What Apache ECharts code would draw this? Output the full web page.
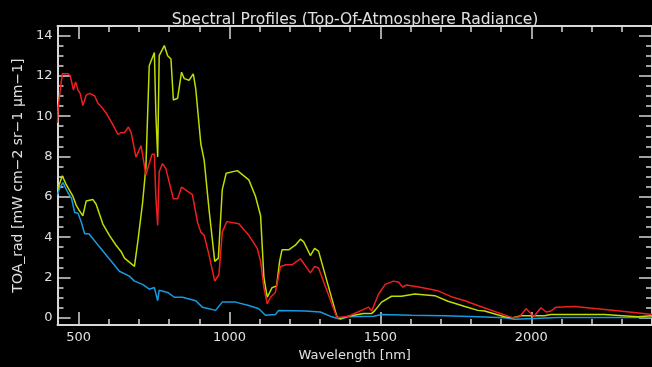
<!DOCTYPE html>
<html>
<head>
<meta charset="utf-8">
<script src="https://cdn.jsdelivr.net/npm/echarts@6/dist/echarts.min.js"></script>
<style>
  html, body { margin: 0; padding: 0; background: #000; }
  #chart { width: 652px; height: 367px; }
</style>
</head>
<body>
<div id="chart"></div>
<script>
// wavelengths (nm) and radiance values, one pair of arrays per curve
var redWl = [430, 432, 437, 446, 465, 472, 478, 483, 490, 498, 505, 514, 525, 536, 553, 564, 575, 591, 613, 630, 641, 652, 665, 674, 690, 707, 723, 734, 743, 751, 756, 762, 767, 778, 789, 814, 828, 841, 877, 894, 905, 916, 932, 951, 965, 976, 991, 1031, 1064, 1092, 1103, 1114, 1125, 1136, 1152, 1169, 1187, 1207, 1235, 1268, 1282, 1295, 1356, 1394, 1461, 1471, 1494, 1516, 1543, 1560, 1573, 1587, 1636, 1691, 1735, 1780, 1823, 1939, 1961, 1983, 2008, 2032, 2049, 2065, 2082, 2143, 2252, 2357, 2400];
var redVal = [9.67, 10.4, 11.04, 12.1, 12.1, 12.01, 12.1, 11.29, 11.7, 11.29, 11.13, 10.53, 11.04, 11.13, 11.01, 10.64, 10.48, 10.16, 9.59, 9.1, 9.18, 9.18, 9.46, 9.18, 7.97, 8.54, 7.08, 7.65, 8.1, 8.13, 5.95, 4.58, 7.24, 7.65, 7.4, 5.9, 5.9, 6.48, 6.11, 4.74, 4.25, 4.09, 3.12, 1.82, 2.15, 4.25, 4.77, 4.66, 4.09, 3.44, 2.8, 1.5, 0.69, 1.02, 1.26, 2.55, 2.63, 2.63, 2.93, 2.23, 2.55, 2.47, 0, 0.08, 0.53, 0.34, 1.18, 1.66, 1.82, 1.78, 1.53, 1.63, 1.5, 1.34, 1.05, 0.85, 0.61, 0, 0.05, 0.45, 0.05, 0.5, 0.29, 0.34, 0.53, 0.56, 0.4, 0.24, 0.16];

var yellowWl = [430, 446, 459, 481, 492, 503, 514, 525, 547, 558, 580, 602, 624, 641, 652, 685, 696, 712, 723, 734, 751, 756, 762, 767, 784, 795, 806, 814, 828, 841, 850, 866, 880, 888, 905, 916, 932, 951, 963, 976, 989, 1026, 1064, 1086, 1103, 1114, 1125, 1141, 1156, 1166, 1174, 1196, 1218, 1235, 1246, 1268, 1282, 1295, 1356, 1367, 1394, 1444, 1471, 1482, 1504, 1537, 1570, 1614, 1680, 1724, 1780, 1823, 1845, 1911, 1939, 1966, 2044, 2065, 2087, 2242, 2352, 2400];
var yellowVal = [6.36, 7.04, 6.6, 6.03, 5.58, 5.3, 5.06, 5.79, 5.87, 5.63, 4.66, 4.09, 3.6, 3.28, 2.96, 2.55, 3.77, 5.71, 7.49, 12.5, 13.16, 10.08, 7.98, 13.0, 13.5, 13.0, 12.83, 10.8, 10.89, 12.18, 11.86, 11.78, 12.1, 11.37, 8.62, 7.82, 5.39, 2.8, 2.96, 6.36, 7.17, 7.3, 6.84, 6.03, 5.06, 1.99, 1.02, 1.5, 1.58, 2.8, 3.37, 3.37, 3.6, 3.9, 3.77, 3.09, 3.44, 3.31, 0.05, -0.03, 0.08, 0.21, 0.21, 0.37, 0.78, 1.07, 1.07, 1.18, 1.1, 0.82, 0.56, 0.37, 0.34, 0.05, 0, 0.1, 0.1, 0.17, 0.17, 0.16, 0.05, 0.1];

var blueWl = [430, 437, 448, 465, 476, 487, 498, 509, 520, 534, 547, 569, 591, 613, 635, 668, 685, 712, 734, 751, 762, 767, 795, 817, 844, 888, 910, 932, 954, 976, 1020, 1064, 1097, 1119, 1152, 1163, 1251, 1301, 1339, 1367, 1394, 1478, 1504, 1603, 1713, 1823, 1911, 1944, 2008, 2087, 2400];
var blueVal = [6.11, 6.43, 6.71, 6.19, 5.95, 5.22, 5.19, 4.74, 4.17, 4.17, 3.93, 3.52, 3.12, 2.72, 2.31, 2.07, 1.82, 1.66, 1.42, 1.5, 0.85, 1.37, 1.26, 1.02, 1.02, 0.85, 0.53, 0.45, 0.37, 0.78, 0.78, 0.61, 0.45, 0.13, 0.17, 0.37, 0.34, 0.29, 0.05, -0.07, 0.05, 0.08, 0.17, 0.13, 0.1, 0.05, 0, -0.07, -0.03, 0.02, 0.02];

// tick values
var xMajor = [500, 1000, 1500, 2000];
var xMinor = [600, 700, 800, 900, 1100, 1200, 1300, 1400, 1600, 1700, 1800, 1900, 2100, 2200, 2300];
var yMajor = [0, 2, 4, 6, 8, 10, 12, 14];
var yMinor = [0.5, 1, 1.5, 2.5, 3, 3.5, 4.5, 5, 5.5, 6.5, 7, 7.5, 8.5, 9, 9.5, 10.5, 11, 11.5, 12.5, 13, 13.5];

function pairs(xs, ys) {
  var out = [];
  for (var i = 0; i < xs.length; i++) out.push([xs[i], ys[i]]);
  return out;
}

var axisColor = '#d8d8d8';
var textColor = '#e0e0e0';
var font = 'DejaVu Sans';

function plain(v) { return String(v); }

function xAx(pos, ticks, len, showLine, showLabel) {
  return {
    type: 'value', position: pos, min: 430, max: 2400,
    axisLine: { show: showLine, onZero: false, lineStyle: { color: axisColor, width: 2 } },
    axisTick: { show: true, inside: true, length: len, customValues: ticks, lineStyle: { color: axisColor, width: 1.5 } },
    axisLabel: { show: showLabel, customValues: ticks, formatter: plain, color: textColor, fontFamily: font, fontSize: 13, margin: 6 },
    splitLine: { show: false }
  };
}
function yAx(pos, ticks, len, showLine, showLabel) {
  return {
    type: 'value', position: pos, min: -0.36, max: 14.47,
    axisLine: { show: showLine, onZero: false, lineStyle: { color: axisColor, width: 2 } },
    axisTick: { show: true, inside: true, length: len, customValues: ticks, lineStyle: { color: axisColor, width: 1.5 } },
    axisLabel: { show: showLabel, customValues: ticks, formatter: plain, color: textColor, fontFamily: font, fontSize: 13, margin: 5 },
    splitLine: { show: false }
  };
}

var chart = echarts.init(document.getElementById('chart'));

var xBottom = xAx('bottom', xMajor, 13, true, true);
xBottom.name = 'Wavelength [nm]';
xBottom.nameLocation = 'middle';
xBottom.nameGap = 20;
xBottom.nameTextStyle = { color: textColor, fontFamily: font, fontSize: 13 };

var yLeft = yAx('left', yMajor, 13, true, true);
yLeft.name = 'TOA_rad [mW cm\u22122 sr\u22121 \u00b5m\u22121]';
yLeft.nameLocation = 'middle';
yLeft.nameGap = 32;
yLeft.nameTextStyle = { color: textColor, fontFamily: font, fontSize: 14 };

var option = {
  backgroundColor: '#000',
  animation: false,
  title: {
    text: 'Spectral Profiles (Top-Of-Atmosphere Radiance)',
    left: 350, top: 7, textAlign: 'center',
    textStyle: { color: textColor, fontFamily: font, fontSize: 15.5, fontWeight: 'normal' }
  },
  grid: { left: 57.5, right: -3, top: 26, bottom: 35.5, containLabel: false },
  xAxis: [
    xBottom,
    xAx('bottom', xMinor, 6, false, false),
    xAx('top', xMajor, 13, true, false),
    xAx('top', xMinor, 6, false, false)
  ],
  yAxis: [
    yLeft,
    yAx('left', yMinor, 6, false, false),
    yAx('right', yMajor, 13, true, false),
    yAx('right', yMinor, 6, false, false)
  ],
  series: [
    { type: 'line', data: pairs(blueWl, blueVal), showSymbol: false, lineStyle: { color: '#169be0', width: 1.5 }, z: 3 },
    { type: 'line', data: pairs(yellowWl, yellowVal), showSymbol: false, lineStyle: { color: '#c0dc00', width: 1.5 }, z: 4 },
    { type: 'line', data: pairs(redWl, redVal), showSymbol: false, lineStyle: { color: '#f01e1e', width: 1.5 }, z: 5 }
  ]
};

chart.setOption(option);
</script>
</body>
</html>
